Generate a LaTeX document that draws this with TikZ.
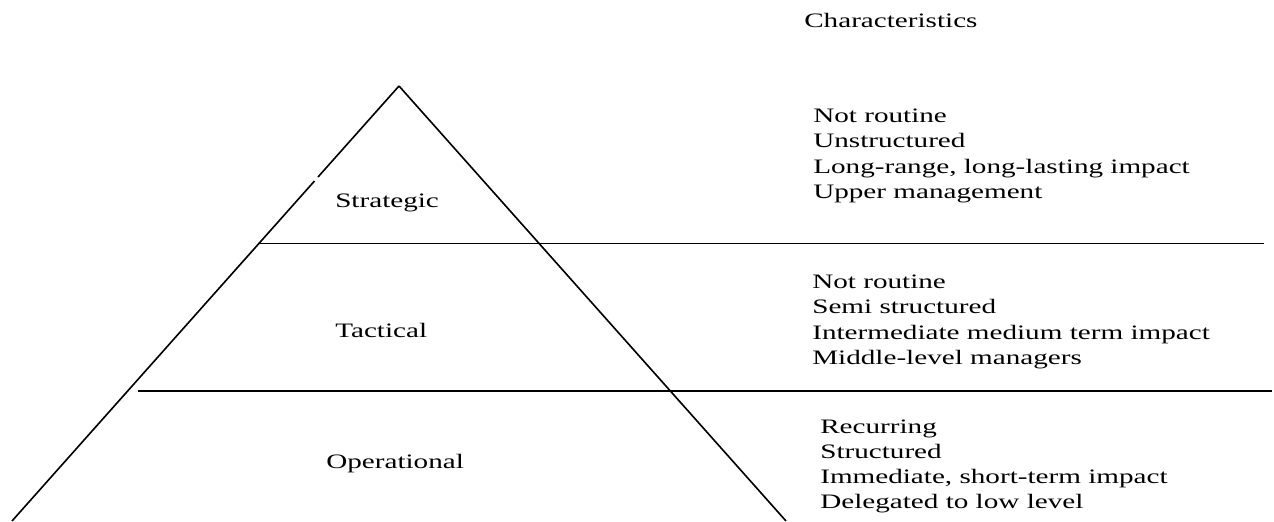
\documentclass[tikz,border=0pt]{standalone}
\usepackage{fontspec}
\setmainfont{Liberation Serif}[FakeStretch=1.42]

\begin{document}
\begin{tikzpicture}[x=0.025cm,y=-0.025cm,
    edge/.style={line width=1.15pt},
    level/.style={anchor=base west,inner sep=0pt,font=\fontsize{14.6}{18}\selectfont},
    item/.style={anchor=base west,inner sep=0pt,font=\fontsize{14.6}{18}\selectfont}]

% Define line spacing of the lists
\def\ls{25.5}

\useasboundingbox (0,0) rectangle (1274,521);

% ===== Pyramid =====
\coordinate (apex) at (399,86);
\coordinate (bl) at (12,521);
\coordinate (br) at (786,521);
% small break in the left side
\coordinate (gapA) at (318,177);
\coordinate (gapB) at (314.5,181);

\draw[edge] (apex) -- (gapA);
\draw[edge] (gapB) -- (bl);
\draw[edge] (apex) -- (br);

% ===== Dividing lines =====
\coordinate (s1) at (258,243.5);
\coordinate (s2) at (1264,243.5);
\coordinate (t1) at (138,391);
\coordinate (t2) at (1272,391);

\draw[edge] (s1) -- (s2);
\draw[edge] (t1) -- (t2);

% ===== Level labels =====
\node[level] (strategic) at (335,207) {Strategic};
\node[level] (tactical) at (335,337) {Tactical};
\node[level] (operational) at (326,468) {Operational};

% ===== Characteristics =====
\node[item] (head) at (804,27) {Characteristics};

% Strategic
\foreach \t [count=\i] in {Not routine, Unstructured, {Long-range, long-lasting impact}, Upper management}
    \node[item] (up\i) at (813,{122+(\i-1)*\ls}) {\t};

% Tactical
\foreach \t [count=\i] in {Not routine, Semi structured, Intermediate medium term impact, Middle-level managers}
    \node[item] (mid\i) at (812,{288+(\i-1)*\ls}) {\t};

% Operational
\foreach \t [count=\i] in {Recurring, Structured, {Immediate, short-term impact}, Delegated to low level}
    \node[item] (low\i) at (820,{433+(\i-1)*25}) {\t};

\end{tikzpicture}
\end{document}
